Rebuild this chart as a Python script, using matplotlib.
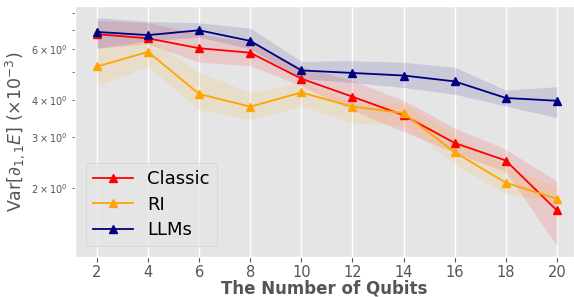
import matplotlib
matplotlib.use("Agg")
import matplotlib.pyplot as plt
import numpy as np

plt.style.use("ggplot")

qubits = [2, 4, 6, 8, 10, 12, 14, 16, 18, 20]

classic = [6.75, 6.53, 6.04, 5.83, 4.75, 4.12, 3.56, 2.86, 2.49, 1.68]
classic_hi = [7.52, 7.38, 6.77, 6.34, 5.20, 4.68, 4.00, 3.22, 2.72, 2.12]
classic_lo = [6.04, 6.25, 5.41, 5.26, 4.49, 3.70, 3.13, 2.65, 2.28, 1.27]

ri = [5.23, 5.87, 4.21, 3.81, 4.26, 3.81, 3.62, 2.66, 2.09, 1.84]
ri_hi = [6.04, 6.50, 5.00, 4.26, 4.58, 4.00, 3.90, 3.05, 2.36, 2.03]
ri_lo = [4.49, 5.23, 3.72, 3.44, 3.83, 3.35, 3.30, 2.42, 1.91, 1.80]

llms = [6.87, 6.70, 6.96, 6.40, 5.07, 4.97, 4.87, 4.65, 4.08, 3.99]
llms_hi = [7.69, 7.46, 7.38, 7.08, 5.45, 5.47, 5.41, 5.20, 4.34, 4.46]
llms_lo = [6.04, 6.41, 6.59, 6.01, 4.75, 4.61, 4.43, 4.20, 3.83, 3.49]

series = [
    ("Classic", classic, classic_lo, classic_hi, "red"),
    ("RI", ri, ri_lo, ri_hi, "orange"),
    ("LLMs", llms, llms_lo, llms_hi, "navy"),
]

fig = plt.figure(figsize=(5.74, 2.97), dpi=100)
ax = fig.add_axes([75 / 574, 1 - 257 / 297, 1 - 75 / 574, 251 / 297])

for name, y, lo, hi, c in series:
    ax.fill_between(qubits, lo, hi, color=c, alpha=0.12, linewidth=0)
    ax.plot(qubits, y, color=c, marker="^", markersize=6, linewidth=1.3, label=name)

ax.set_yscale("log")
ax.set_ylim(1.163, 8.43)
ax.set_xlim(1.14, 20.67)
ax.set_xticks(qubits)
ax.tick_params(axis="x", labelsize=10.5, pad=2)
ax.tick_params(axis="y", which="both", labelsize=7)
ax.grid(True, axis="x", color="white", linewidth=1)
ax.grid(False, axis="y", which="both")
ax.set_xlabel("The Number of Qubits", fontsize=12, fontweight="bold", color="#555555", labelpad=0)
ax.set_ylabel(r"Var$[\partial_{1,1}E]$ $(\times 10^{-3})$", fontsize=12.5, color="#555555", labelpad=3)

ax.legend(loc="lower left", fontsize=13, bbox_to_anchor=(0.0, 0.0), borderaxespad=0.6,
          handlelength=2.2, labelspacing=0.4)

fig.savefig("out.png", dpi=100)
